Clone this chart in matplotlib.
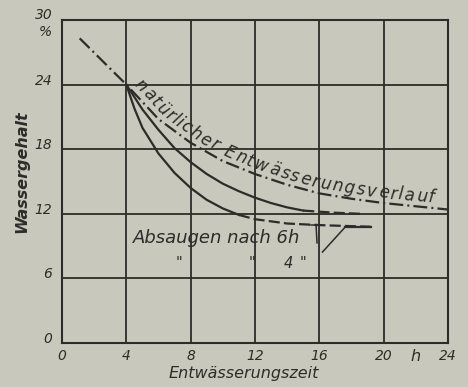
import numpy as np
import matplotlib
matplotlib.use("Agg")
import matplotlib.pyplot as plt
import matplotlib.transforms as mtransforms
from matplotlib.textpath import TextToPath
from matplotlib.font_manager import FontProperties

plt.rcParams['font.family'] = ['DejaVu Sans']
plt.rcParams['lines.scale_dashes'] = False

# natural drainage curve (dash-dot)
nat_x = [1.1, 4, 6, 8, 10, 12, 14, 16, 18, 20, 22, 24]
nat_y = [28.3, 24.0, 20.8, 18.6, 16.9, 15.7, 14.7, 13.9, 13.4, 13.0, 12.7, 12.4]

# suction after 6 h
s6_x = [4, 5, 6, 7, 8, 9, 10, 11, 12, 13, 14, 15, 16, 17, 18.6]
s6_y = [24.0, 21.7, 19.8, 18.1, 16.8, 15.7, 14.8, 14.1, 13.5, 13.0, 12.6, 12.3, 12.2, 12.1, 12.0]
s6_solid = 11   # index where the line turns dashed

# suction after 4 h
s4_x = [4, 4.5, 5, 6, 7, 8, 9, 10, 11, 12, 14, 16, 19.2]
s4_y = [24.0, 21.8, 20.0, 17.6, 15.8, 14.4, 13.3, 12.5, 11.9, 11.5, 11.1, 10.95, 10.8]
s4_solid = 8

x_ticks = [0, 4, 8, 12, 16, 20, 24]
x_labels = ['0', '4', '8', '12', '16', '20', '24']
y_ticks = [0, 6, 12, 18, 24, 30]
y_labels = ['0', '6', '12', '18', '24', '30\n%']

bg = '#c8c9bc'
ink = '#2c2c28'

fig = plt.figure(figsize=(4.68, 3.87), dpi=100, facecolor=bg)
ax = fig.add_axes([0.1325, 0.1137, 0.8245, 0.8345], facecolor=bg)
ax.set_xlim(0, 24)
ax.set_ylim(0, 30)

ax.set_xticks(x_ticks)
ax.set_xticklabels(x_labels, style='italic', fontsize=10, color=ink)
ax.set_yticks(y_ticks)
ax.set_yticklabels(y_labels, style='italic', fontsize=10, color=ink, linespacing=1.35)
ax.tick_params(length=0)
ax.tick_params(axis='x', pad=4)
ax.tick_params(axis='y', pad=7)
lift = mtransforms.ScaledTranslation(0, 4 / 72, fig.dpi_scale_trans)
for lab in ax.get_yticklabels()[:-1]:
    lab.set_transform(lab.get_transform() + lift)
ax.grid(True, color=ink, lw=1.3)
for sp in ax.spines.values():
    sp.set_color(ink)
    sp.set_linewidth(1.5)
ax.text(22, -0.018, 'h', transform=ax.get_xaxis_transform(), ha='center', va='top',
        style='italic', fontsize=11.5, color=ink)

ax.text(0.47, -0.072, 'Entwässerungszeit', transform=ax.transAxes, ha='center', va='top',
        style='italic', fontsize=11.5, color=ink)
ax.text(-0.105, 15.9, 'Wassergehalt', transform=ax.get_yaxis_transform(), ha='center',
        va='center', rotation=90, style='italic', fontsize=11.5, color=ink, fontweight='bold')

# curves
ax.plot(nat_x, nat_y, color=ink, lw=1.6, dashes=(10, 3, 1.4, 3))
ax.plot(s6_x[:s6_solid + 1], s6_y[:s6_solid + 1], color=ink, lw=1.6)
ax.plot(s6_x[s6_solid:], s6_y[s6_solid:], color=ink, lw=1.6, dashes=(8, 3))
ax.plot(s4_x[:s4_solid + 1], s4_y[:s4_solid + 1], color=ink, lw=1.6)
ax.plot(s4_x[s4_solid:], s4_y[s4_solid:], color=ink, lw=1.6, dashes=(8, 3))

# labels for suction curves
ax.text(4.4, 9.75, 'Absaugen nach 6h', ha='left', va='center', style='italic',
        fontsize=13, color=ink)
ax.plot([15.86, 15.8], [9.3, 11.0], color=ink, lw=1.1)
ax.plot([15.5, 16.2], [11.0, 11.0], color=ink, lw=1.1)
ax.plot([16.2, 17.6], [8.45, 10.75], color=ink, lw=1.1)
ax.plot([17.6, 19.2], [10.75, 10.75], color=ink, lw=1.6)
for xx, s in [(7.3, '"'), (11.8, '"'), (14.1, '4'), (15.0, '"')]:
    ax.text(xx, 7.4, s, ha='center', va='center', style='italic', fontsize=10.5, color=ink)

# text following the natural curve
label = 'natürlicher Entwässerungsverlauf'
fs = 12
fp = FontProperties(family='DejaVu Sans', style='italic', size=fs)
t2p = TextToPath()
widths = []
for ch in label:
    w, h, d = t2p.get_text_width_height_descent(ch if ch != ' ' else 'n', fp, ismath=False)
    widths.append(w * fig.dpi / 72 * (0.6 if ch == ' ' else 1.0))
widths = np.array(widths)

pts = ax.transData.transform(np.column_stack([nat_x, nat_y]))
seg = np.hypot(np.diff(pts[:, 0]), np.diff(pts[:, 1]))
arc = np.concatenate([[0], np.cumsum(seg)])


def at(s):
    px = np.interp(s, arc, pts[:, 0])
    py = np.interp(s, arc, pts[:, 1])
    return px, py


s_start = arc[1] + 4
s_end = arc[-1] - 14
scale = (s_end - s_start) / widths.sum()
pos = s_start + (np.cumsum(widths) - widths / 2) * scale
inv = ax.transData.inverted()
for ch, s in zip(label, pos):
    x0, y0 = at(s - 12)
    x1, y1 = at(s + 12)
    ang = np.arctan2(y1 - y0, x1 - x0)
    cx, cy = at(s)
    nx, ny = -np.sin(ang), np.cos(ang)
    off = 10
    dx, dy = inv.transform((cx + nx * off, cy + ny * off))
    ax.text(dx, dy, ch, ha='center', va='center', rotation=np.degrees(ang),
            rotation_mode='anchor', fontproperties=fp, color=ink)

fig.savefig('out.png', dpi=100, facecolor=bg)
